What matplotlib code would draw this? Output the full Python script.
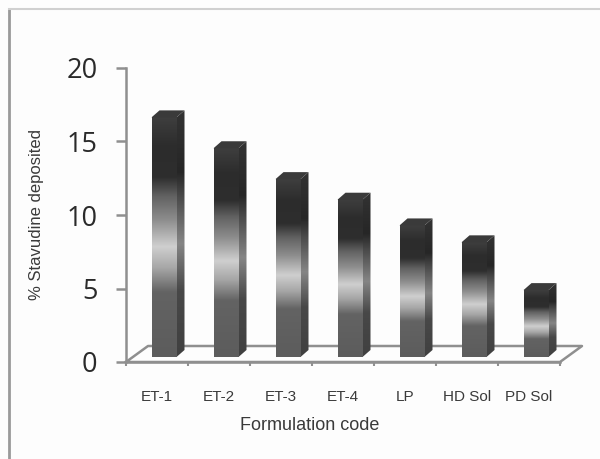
import numpy as np
import matplotlib
matplotlib.use('Agg')
import matplotlib.pyplot as plt
from matplotlib.colors import LinearSegmentedColormap
from matplotlib.lines import Line2D
from matplotlib.patches import Polygon

# values
formulations = ['ET-1', 'ET-2', 'ET-3', 'ET-4', 'LP', 'HD Sol', 'PD Sol']
deposited = [16.3, 14.2, 12.1, 10.7, 8.95, 7.8, 4.55]
y_ticks = [0, 5, 10, 15, 20]

W, H = 600, 459
fig = plt.figure(figsize=(W / 100, H / 100), dpi=100, facecolor='#fdfdfd')
# plot box in pixels: x 126-560, y 68-362
ax = fig.add_axes([126 / W, 1 - 362 / H, 434 / W, 294 / H])
ax.set_facecolor('none')
ax.set_xlim(0, len(formulations))
ax.set_ylim(0, 20)

# pixel sizes turned into data units
px_x = len(formulations) / 434
px_y = 20 / 294
axis_col = '#8f8f8f'
text_col = '#3a3a3a'

# gradient used on every bar, top to bottom
front_cmap = LinearSegmentedColormap.from_list('metal', [
    (0.00, '#3e3e3e'), (0.12, '#2c2c2c'), (0.25, '#2e2e2e'), (0.33, '#626262'),
    (0.43, '#8e8e8e'), (0.54, '#cfcfcf'), (0.63, '#a6a6a6'), (0.73, '#636363'),
    (1.00, '#5c5c5c')])
side_cmap = LinearSegmentedColormap.from_list('metal_side', [
    (0.00, '#333333'), (0.25, '#262626'), (0.35, '#4a4a4a'), (0.54, '#858585'),
    (0.73, '#484848'), (1.00, '#404040')])
grad = np.linspace(0, 1, 256).reshape(-1, 1)

# floor of the 3d box
dx_floor, dy_floor = 22 * px_x, 16 * px_y
floor_x = [0, len(formulations), len(formulations) + dx_floor, dx_floor, 0]
floor_y = [0, 0, dy_floor, dy_floor, 0]
ax.plot(floor_x, floor_y, color=axis_col, lw=1.8, clip_on=False, zorder=1)

base = 5 * px_y
bar_w = 25 * px_x
dx, dy = 8 * px_x, 7 * px_y
for i, val in enumerate(deposited):
    x0 = i + 0.5 - bar_w / 2 + 7 * px_x
    x1 = x0 + bar_w
    top = val + base
    ax.imshow(grad, extent=[x0, x1, base, top], cmap=front_cmap, vmin=0, vmax=1,
              aspect='auto', origin='upper', zorder=3, interpolation='bilinear')
    im = ax.imshow(grad, extent=[x1, x1 + dx, base, top + dy], cmap=side_cmap, vmin=0, vmax=1,
                   aspect='auto', origin='upper', zorder=3, interpolation='bilinear')
    im.set_clip_path(Polygon([(x1, base), (x1 + dx, base + dy), (x1 + dx, top + dy), (x1, top)],
                             transform=ax.transData))
    ax.add_patch(Polygon([(x0, top), (x1, top), (x1 + dx, top + dy), (x0 + dx, top + dy)],
                         facecolor='#3a3a3a', edgecolor='none', zorder=4))

ax.set_xlim(0, len(formulations))
ax.set_ylim(0, 20)

for s in ['top', 'right']:
    ax.spines[s].set_visible(False)
for s in ['left', 'bottom']:
    ax.spines[s].set_color(axis_col)
    ax.spines[s].set_linewidth(1.8)

ax.set_yticks(y_ticks)
ax.set_yticklabels([str(v) for v in y_ticks], fontfamily='Open Sans', fontsize=19.5, color='#2a2a2a')
ax.tick_params(axis='y', length=7, width=1.8, color=axis_col, pad=13.5)
ax.set_xticks(range(len(formulations) + 1))
ax.set_xticklabels([])
ax.tick_params(axis='x', length=3, width=1.5, color=axis_col)

# category labels sit between the ticks
for i, name in enumerate(formulations):
    ax.annotate(name, xy=(i + 0.5, 0), xycoords='data', xytext=(0, -35), textcoords='offset pixels',
                ha='center', va='center', fontfamily='Liberation Sans', fontsize=11, color=text_col)

fig.text(310 / W, 1 - 426 / H, 'Formulation code', ha='center', va='center',
         fontfamily='Liberation Sans', fontsize=13, color=text_col)
fig.text(37 / W, 1 - 214 / H, '% Stavudine deposited', rotation=90, ha='center', va='center',
         fontfamily='Liberation Sans', fontsize=12, color=text_col)

# grey frame of the pasted chart
fig.add_artist(Line2D([9 / W, 9 / W], [0, 1 - 9 / H], color='#9a9a9a', lw=2))
fig.add_artist(Line2D([9 / W, 1], [1 - 9 / H, 1 - 9 / H], color='#d0d0d0', lw=1.5))

fig.savefig('out.png', dpi=100, facecolor=fig.get_facecolor())
